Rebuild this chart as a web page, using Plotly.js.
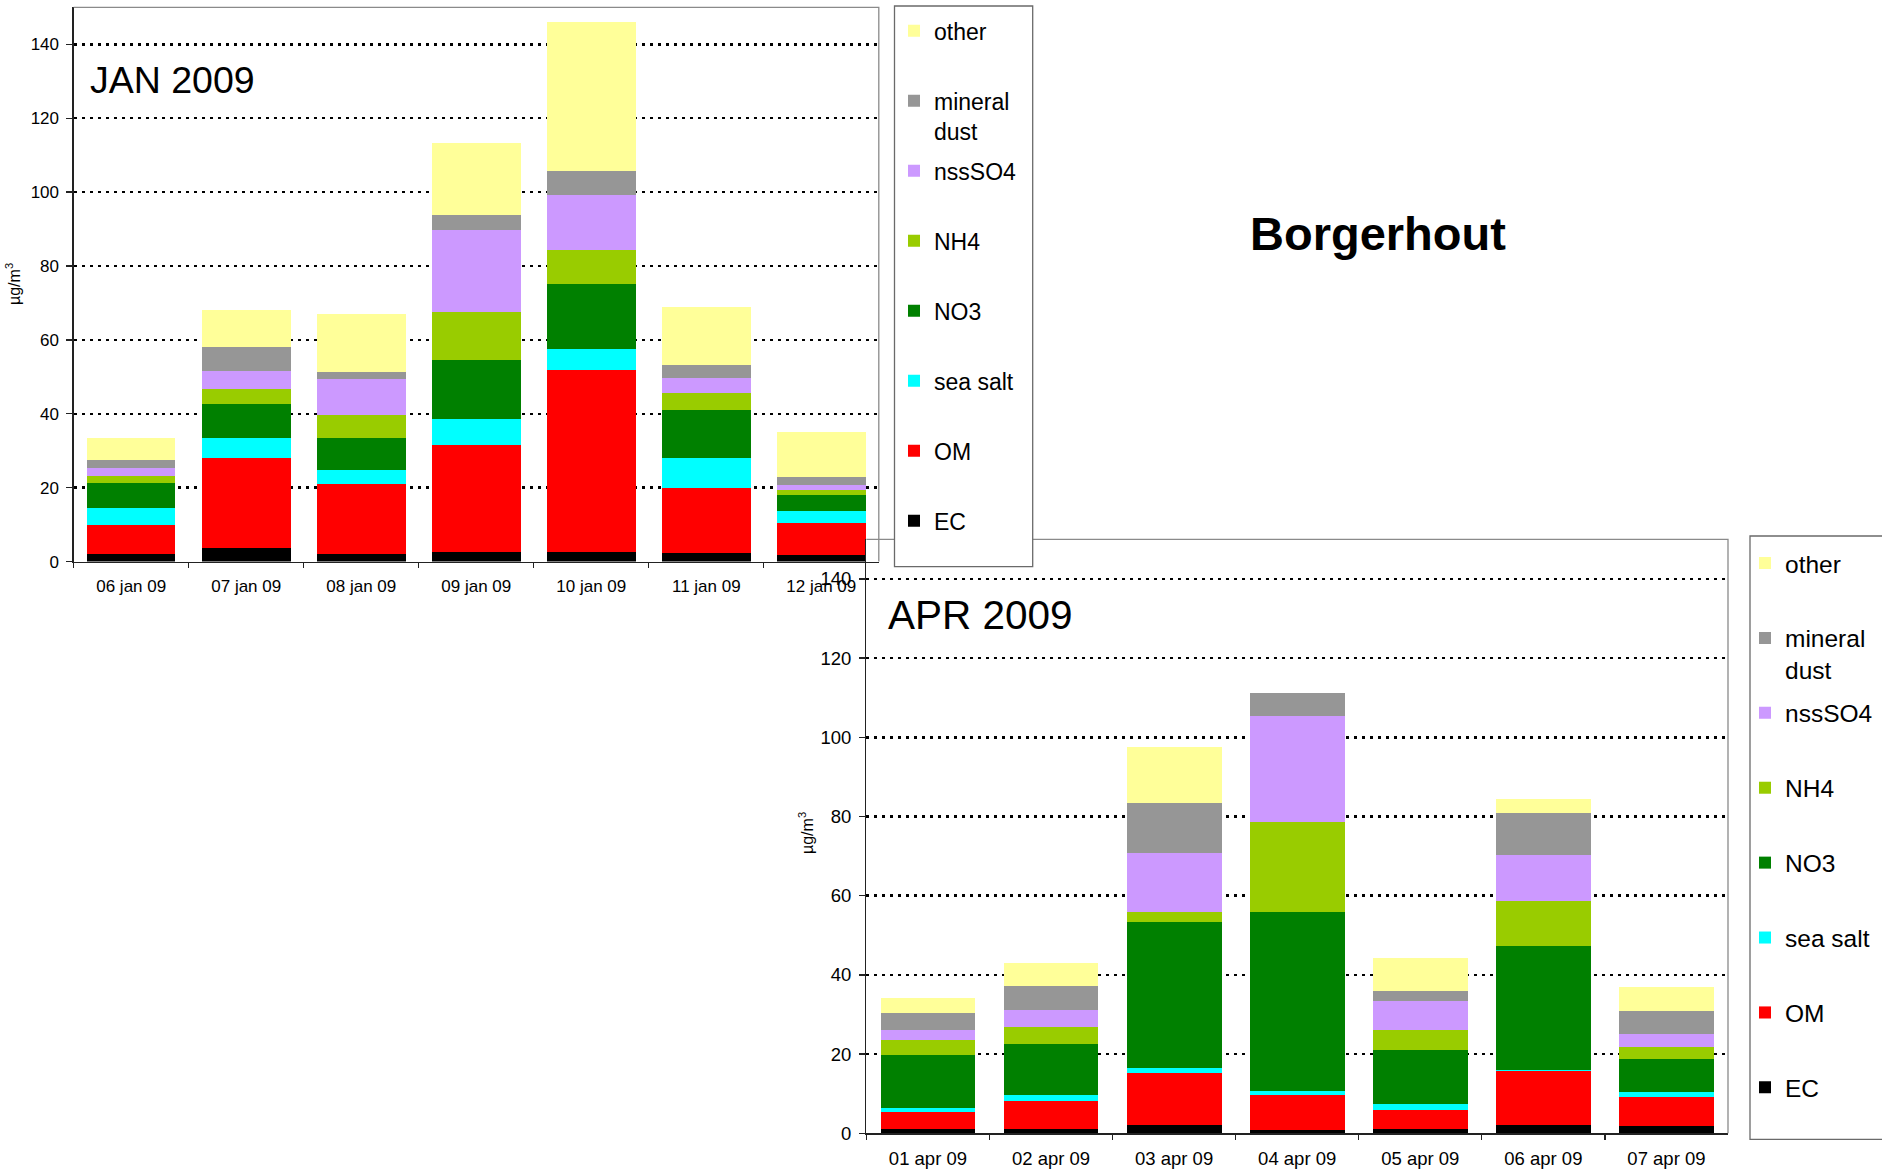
<!DOCTYPE html>
<html><head><meta charset="utf-8">
<script src="https://cdn.plot.ly/plotly-3.0.1.min.js"></script>
<style>html,body{margin:0;padding:0;background:#fff;}#chart{width:1882px;height:1170px;}</style>
</head><body><div id="chart"></div>
<script>
// ---- data (µg/m3), stacked bottom-up: EC, OM, sea salt, NO3, NH4, nssSO4, mineral dust, other
const components = ['EC', 'OM', 'sea salt', 'NO3', 'NH4', 'nssSO4', 'mineral dust', 'other'];
const legendLabels = ['EC', 'OM', 'sea salt', 'NO3', 'NH4', 'nssSO4', 'mineral<br>dust', 'other'];
const componentColors = ['#000000', '#FF0000', '#00FFFF', '#008000', '#99CC00', '#CC99FF', '#969696', '#FFFF99'];

const janDays = ['06 jan 09', '07 jan 09', '08 jan 09', '09 jan 09', '10 jan 09', '11 jan 09', '12 jan 09'];
const janEC       = [2.1, 3.8, 2.1, 2.6, 2.6, 2.3, 1.8];
const janOM       = [7.8, 24.2, 18.9, 28.9, 49.2, 17.6, 8.7];
const janSeaSalt  = [4.6, 5.4, 3.8, 7.1, 5.7, 8.1, 3.2];
const janNO3      = [6.8, 9.2, 8.6, 15.9, 17.5, 13.0, 4.3];
const janNH4      = [1.9, 4.1, 6.2, 13.0, 9.4, 4.5, 1.4];
const janNssSO4   = [2.1, 4.8, 9.8, 22.2, 14.8, 4.1, 1.3];
const janDust     = [2.2, 6.5, 1.9, 4.1, 6.5, 3.6, 2.2];
const janOther    = [5.9, 10.0, 15.8, 19.5, 40.3, 15.6, 12.1];

const aprDays = ['01 apr 09', '02 apr 09', '03 apr 09', '04 apr 09', '05 apr 09', '06 apr 09', '07 apr 09'];
const aprEC       = [1.0, 1.0, 2.1, 0.8, 1.0, 2.1, 1.9];
const aprOM       = [4.4, 7.2, 13.1, 8.9, 4.9, 13.6, 7.3];
const aprSeaSalt  = [1.0, 1.5, 1.3, 1.0, 1.5, 0.4, 1.2];
const aprNO3      = [13.4, 12.9, 36.9, 45.2, 13.6, 31.2, 8.4];
const aprNH4      = [3.8, 4.3, 2.5, 22.7, 5.1, 11.4, 3.0];
const aprNssSO4   = [2.5, 4.2, 14.9, 26.8, 7.3, 11.6, 3.3];
const aprDust     = [4.3, 6.1, 12.6, 5.8, 2.5, 10.5, 5.8];
const aprOther    = [3.8, 5.8, 14.2, 0.0, 8.4, 3.6, 6.1];

const yTickVals = [0, 20, 40, 60, 80, 100, 120, 140];

// ---- layout helpers (pixel -> paper)
const W = 1882, H = 1170;
const fx = p => p / W;
const fy = p => 1 - p / H;
const FONT = 'Liberation Sans, Arial, sans-serif';

const janSeries = [janEC, janOM, janSeaSalt, janNO3, janNH4, janNssSO4, janDust, janOther];
const aprSeries = [aprEC, aprOM, aprSeaSalt, aprNO3, aprNH4, aprNssSO4, aprDust, aprOther];

function legendText(i) {
  const t = legendLabels[i];
  return t.indexOf('<br>') >= 0 ? t : t + '<br>\u00a0';
}

const traces = [];
components.forEach((c, i) => {
  traces.push({
    type: 'bar', x: janDays, y: janSeries[i], name: legendText(i),
    marker: {color: componentColors[i], line: {width: 0}},
    xaxis: 'x', yaxis: 'y', legend: 'legend', legendgroup: 'jan' + i,
    legendrank: 1000 - i * 10
  });
});
components.forEach((c, i) => {
  traces.push({
    type: 'bar', x: aprDays, y: aprSeries[i], name: legendText(i),
    marker: {color: componentColors[i], line: {width: 0}},
    xaxis: 'x2', yaxis: 'y2', legend: 'legend2', legendgroup: 'apr' + i,
    legendrank: 1000 - i * 10
  });
});

const gridStyle = {showgrid: true, gridcolor: '#000000', gridwidth: 2.5, griddash: '3px,5px'};

function xAxis(domain, anchor, fs) {
  return {
    domain: domain, anchor: anchor, type: 'category',
    showline: true, linecolor: '#222222', linewidth: 1.5,
    ticks: 'outside', tickson: 'boundaries', ticklen: 5, tickcolor: '#222222', tickwidth: 1.3,
    tickfont: {family: FONT, size: fs, color: '#000'}, ticklabelstandoff: 8,
    showgrid: false, zeroline: false, fixedrange: true
  };
}
function yAxis(domain, anchor, fs) {
  return Object.assign({
    domain: domain, anchor: anchor, range: [0, 150],
    tickvals: yTickVals, ticktext: yTickVals.map(String),
    showline: true, linecolor: '#222222', linewidth: 1.3,
    ticks: 'outside', ticklen: 6, tickcolor: '#222222', tickwidth: 1.3,
    tickfont: {family: FONT, size: fs, color: '#000'}, ticklabelstandoff: 4,
    zeroline: false, fixedrange: true
  }, gridStyle);
}

const layout = {
  width: W, height: H,
  margin: {l: 0, r: 0, t: 0, b: 0, pad: 0, autoexpand: false},
  paper_bgcolor: '#ffffff', plot_bgcolor: 'rgba(0,0,0,0)',
  barmode: 'stack', bargap: 0.23,
  font: {family: FONT, color: '#000'},
  xaxis: xAxis([fx(73.7), fx(878.8)], 'y', 17),
  yaxis: yAxis([fy(561.6), fy(7.3)], 'x', 17),
  xaxis2: xAxis([fx(866.4), fx(1728)], 'y2', 18.5),
  yaxis2: yAxis([fy(1133.3), fy(539.3)], 'x2', 18.5),
  legend: {
    x: fx(894), y: fy(9.3), xanchor: 'left', yanchor: 'top',
    bgcolor: 'rgba(0,0,0,0)', borderwidth: 0,
    font: {family: FONT, size: 23, color: '#000'},
    traceorder: 'grouped', tracegroupgap: 7.2, valign: 'top', itemclick: false
  },
  legend2: {
    x: fx(1745), y: fy(540.6), xanchor: 'left', yanchor: 'top',
    bgcolor: 'rgba(0,0,0,0)', borderwidth: 0,
    font: {family: FONT, size: 24.5, color: '#000'},
    traceorder: 'grouped', tracegroupgap: 8.2, valign: 'top', itemclick: false
  },
  shapes: [
    {type: 'path', xref: 'x domain', yref: 'y domain', path: 'M0,1L1,1L1,0', line: {color: '#8a8a8a', width: 1.3}, layer: 'above'},
    {type: 'path', xref: 'x2 domain', yref: 'y2 domain', path: 'M0,1L1,1L1,0', line: {color: '#8a8a8a', width: 1.3}, layer: 'above'},
    {type: 'rect', xref: 'paper', yref: 'paper', x0: fx(894.5), x1: fx(1032.7), y0: fy(566.7), y1: fy(6),
     fillcolor: '#ffffff', line: {color: '#6a6a6a', width: 1.3}, layer: 'above'},
    {type: 'rect', xref: 'paper', yref: 'paper', x0: fx(1750), x1: fx(1900), y0: fy(1139.3), y1: fy(536),
     fillcolor: '#ffffff', line: {color: '#6a6a6a', width: 1.3}, layer: 'above'}
  ],
  annotations: [
    {xref: 'paper', yref: 'paper', x: fx(88), y: fy(80), xanchor: 'left', yanchor: 'middle',
     text: 'JAN 2009', showarrow: false, font: {family: FONT, size: 37.5, color: '#000'}},
    {xref: 'paper', yref: 'paper', x: fx(886), y: fy(614.6), xanchor: 'left', yanchor: 'middle',
     text: 'APR 2009', showarrow: false, font: {family: FONT, size: 40.5, color: '#000'}},
    {xref: 'paper', yref: 'paper', x: fx(1378), y: fy(233.6), xanchor: 'center', yanchor: 'middle',
     text: 'Borgerhout', showarrow: false, font: {family: FONT, size: 47, color: '#000', weight: 'bold'}},
    {xref: 'paper', yref: 'paper', x: fx(13), y: fy(284), xanchor: 'center', yanchor: 'middle',
     text: 'µg/m<sup>3</sup>', textangle: -90, showarrow: false, font: {family: FONT, size: 16, color: '#000'}},
    {xref: 'paper', yref: 'paper', x: fx(806), y: fy(833), xanchor: 'center', yanchor: 'middle',
     text: 'µg/m<sup>3</sup>', textangle: -90, showarrow: false, font: {family: FONT, size: 16, color: '#000'}}
  ],
  showlegend: true
};

Plotly.newPlot('chart', traces, layout, {displayModeBar: false, staticPlot: true});
</script>
</body></html>
